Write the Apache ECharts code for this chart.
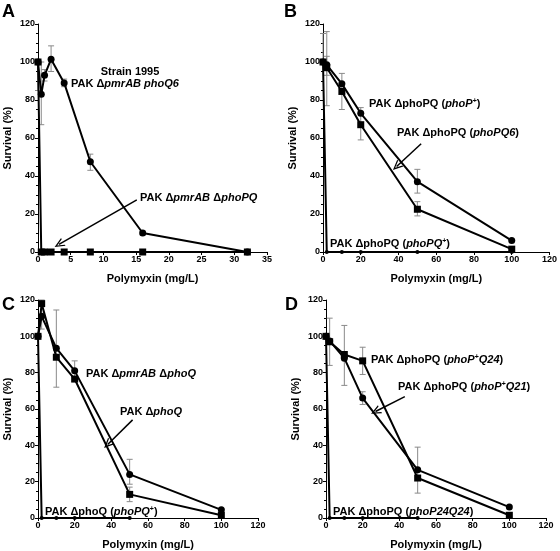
<!DOCTYPE html>
<html><head><meta charset="utf-8">
<script src="https://cdn.jsdelivr.net/npm/echarts@6/dist/echarts.min.js"></script>
<style>html,body{margin:0;padding:0;background:#fff}#c{width:560px;height:551px}</style>
</head><body><div id="c"></div>
<script>
// Panel A
const aX = [0, 0.5, 1, 2, 4, 8, 16, 32];
const aPhoQ6 = [100, 83, 93, 101.5, 89, 47.5, 10, 0];
const aPhoPQ = [100, 0, 0, 0, 0, 0, 0, 0];
const aErr = [[0, 85, 100], [0.5, 67, 100], [1, 90, 96], [2, 95, 108.5], [4, 87, 91], [8, 43, 51.5], [16, 9, 11]];
const aXTicks = {min: 0, max: 35, interval: 5};
// Panel B
const bX = [0, 2, 10, 20, 50, 100];
const bPhoP = [100, 98.5, 88.5, 73, 37, 6];
const bPhoPQ6 = [100, 97, 84.5, 67, 22.5, 1.5];
const bCompX = [0, 2, 10, 20, 50, 100];
const bComp = [100, 0, 0, 0, 0, 0];
const bErr = [[0, 100, 115], [2, 77, 116], [2, 93, 103], [10, 75, 94], [20, 59, 76], [50, 31, 43.5], [50, 19, 26.5]];
// Panel C
const cX = [0, 2, 10, 20, 50, 100];
const cPmrPhoQ = [100, 111, 93.5, 81, 24, 4.5];
const cPhoQ = [100, 118, 88.5, 76.5, 13, 1.5];
const cCompX = [0, 2, 10, 20, 50];
const cComp = [100, 0, 0, 0, 0];
const cErr = [[2, 104, 120], [10, 72, 114.5], [20, 75, 86.5], [50, 18.6, 32.3], [50, 9, 17]];
// Panel D
const dX = [0, 2, 10, 20, 50, 100];
const dQ24 = [100, 97, 90, 86.5, 22, 1.5];
const dQ21 = [100, 97.5, 88, 66, 26.5, 6];
const dCompX = [0, 2, 10, 20, 50];
const dComp = [100, 0, 0, 0, 0];
const dErr = [[2, 84, 110], [10, 73, 106], [20, 79, 94], [20, 62.5, 69.5], [50, 13.7, 39]];
const xTicks = {min: 0, max: 120, interval: 20};
const yTicks = {min: 0, max: 120, interval: 20};

const FONT = 'Liberation Sans, Arial, sans-serif';
const chart = echarts.init(document.getElementById('c'));

const grids = [
  {left: 38, top: 24, width: 229, height: 228},
  {left: 323, top: 24, width: 230, height: 228},
  {left: 38, top: 300, width: 220, height: 219},
  {left: 326, top: 300, width: 220, height: 219}
];

function xAxis(i, t) {
  return {gridIndex: i, type: 'value', min: t.min, max: t.max, interval: t.interval,
    name: 'Polymyxin (mg/L)', nameLocation: 'middle', nameGap: 21,
    nameTextStyle: {fontFamily: FONT, fontWeight: 'bold', fontSize: 11, color: '#000'},
    axisLine: {show: true, onZero: false, lineStyle: {color: '#000', width: 1}},
    axisTick: {show: true, length: 3, lineStyle: {color: '#000'}},
    axisLabel: {fontFamily: FONT, fontWeight: 'bold', fontSize: 9, color: '#000', margin: 3},
    splitLine: {show: false}};
}
function yAxis(i) {
  return {gridIndex: i, type: 'value', min: yTicks.min, max: yTicks.max, interval: yTicks.interval,
    name: 'Survival (%)', nameLocation: 'middle', nameGap: 25,
    nameTextStyle: {fontFamily: FONT, fontWeight: 'bold', fontSize: 11, color: '#000'},
    axisLine: {show: true, onZero: false, lineStyle: {color: '#000', width: 1}},
    axisTick: {show: true, length: 3, lineStyle: {color: '#000'}},
    minorTick: {show: true, splitNumber: 4, length: 2, lineStyle: {color: '#000'}},
    axisLabel: {fontFamily: FONT, fontWeight: 'bold', fontSize: 9, color: '#000', margin: 3},
    splitLine: {show: false}};
}
function zip(xs, ys) { return xs.map((x, k) => [x, ys[k]]); }
function line(i, xs, ys, sym, size, extra) {
  return Object.assign({type: 'line', xAxisIndex: i, yAxisIndex: i, data: zip(xs, ys),
    symbol: sym, symbolSize: size, showSymbol: true, animation: false, z: 3,
    lineStyle: {color: '#000', width: 2}, itemStyle: {color: '#000', borderWidth: 0}}, extra || {});
}
function errSeries(i, data) {
  return {type: 'custom', xAxisIndex: i, yAxisIndex: i, data: data, z: 2, animation: false,
    encode: {x: 0, y: [1, 2]},
    renderItem: function (params, api) {
      const x = api.value(0), lo = api.value(1), hi = api.value(2);
      const p1 = api.coord([x, lo]), p2 = api.coord([x, hi]);
      const st = {stroke: '#8a8a8a', lineWidth: 1};
      return {type: 'group', children: [
        {type: 'line', shape: {x1: p1[0], y1: p1[1], x2: p2[0], y2: p2[1]}, style: st},
        {type: 'line', shape: {x1: p1[0] - 3, y1: p1[1], x2: p1[0] + 3, y2: p1[1]}, style: st},
        {type: 'line', shape: {x1: p2[0] - 3, y1: p2[1], x2: p2[0] + 3, y2: p2[1]}, style: st}
      ]};
    }};
}
const CHEVRON = 'path://M5,0 L10,12 L8.5,12 L5,3.6 L1.5,12 L0,12 Z';
function arrow(from, to) {
  return {silent: true, symbol: ['none', CHEVRON], symbolSize: [9, 10], animation: false,
    label: {show: false}, lineStyle: {color: '#000', width: 1.5, type: 'solid'},
    itemStyle: {color: '#000'},
    data: [[{coord: from}, {coord: to}]]};
}

const rich = {
  n: {fontFamily: FONT, fontWeight: 'bold', fontSize: 11, color: '#000'},
  i: {fontFamily: FONT, fontWeight: 'bold', fontStyle: 'italic', fontSize: 11, color: '#000'},
  s: {fontFamily: FONT, fontWeight: 'bold', fontSize: 7, color: '#000', verticalAlign: 'top', padding: [0, 0, 6, 0]}
};
function txt(x, y, text, align) {
  return {type: 'text', x: x, y: y, silent: true,
    style: {text: text, rich: rich, align: align || 'left', verticalAlign: 'middle', fill: '#000'}};
}
function letter(x, y, t) {
  return {type: 'text', x: x, y: y, silent: true,
    style: {text: t, fontFamily: FONT, fontWeight: 'bold', fontSize: 18, fill: '#000', verticalAlign: 'top'}};
}

const option = {
  animation: false,
  grid: grids,
  xAxis: [xAxis(0, aXTicks), xAxis(1, xTicks), xAxis(2, xTicks), xAxis(3, xTicks)],
  yAxis: [yAxis(0), yAxis(1), yAxis(2), yAxis(3)],
  series: [
    errSeries(0, aErr),
    line(0, aX, aPhoQ6, 'circle', 7),
    line(0, aX, aPhoPQ, 'rect', 7, {markLine: arrow([15.1, 27.4], [3.2, 4])}),
    errSeries(1, bErr),
    line(1, bX, bPhoP, 'circle', 7),
    line(1, bX, bPhoPQ6, 'rect', 7, {markLine: arrow([52, 57], [39, 45])}),
    line(1, bCompX, bComp, 'circle', 4),
    errSeries(2, cErr),
    line(2, cX, cPmrPhoQ, 'circle', 7),
    line(2, cX, cPhoQ, 'rect', 7, {markLine: arrow([51.6, 54], [38, 40.5])}),
    line(2, cCompX, cComp, 'circle', 4),
    errSeries(3, dErr),
    line(3, dX, dQ21, 'circle', 7, {markLine: arrow([43, 66.8], [27, 58.6])}),
    line(3, dX, dQ24, 'rect', 7),
    line(3, dCompX, dComp, 'circle', 4)
  ],
  graphic: [
    letter(2, 3, 'A'), letter(284, 3, 'B'), letter(2, 296, 'C'), letter(285, 296, 'D'),
    txt(130, 72, '{n|Strain 1995}', 'center'),
    txt(71, 84, '{n|PAK Δ}{i|pmrAB phoQ6}'),
    txt(140, 198, '{n|PAK Δ}{i|pmrAB} {n|Δ}{i|phoPQ}'),
    txt(369, 104, '{n|PAK ΔphoPQ (}{i|phoP}{s|+}{n|)}'),
    txt(397, 133, '{n|PAK ΔphoPQ (}{i|phoPQ6}{n|)}'),
    txt(330, 244, '{n|PAK ΔphoPQ (}{i|phoPQ}{s|+}{n|)}'),
    txt(86, 374, '{n|PAK Δ}{i|pmrAB} {n|Δ}{i|phoQ}'),
    txt(120, 412, '{n|PAK Δ}{i|phoQ}'),
    txt(45, 512, '{n|PAK ΔphoQ (}{i|phoPQ}{s|+}{n|)}'),
    txt(371, 360, '{n|PAK ΔphoPQ (}{i|phoP}{s|+}{i|Q24}{n|)}'),
    txt(398, 387, '{n|PAK ΔphoPQ (}{i|phoP}{s|+}{i|Q21}{n|)}'),
    txt(333, 512, '{n|PAK ΔphoPQ (}{i|phoP24Q24}{n|)}')
  ]
};
chart.setOption(option);
</script>
</body></html>
